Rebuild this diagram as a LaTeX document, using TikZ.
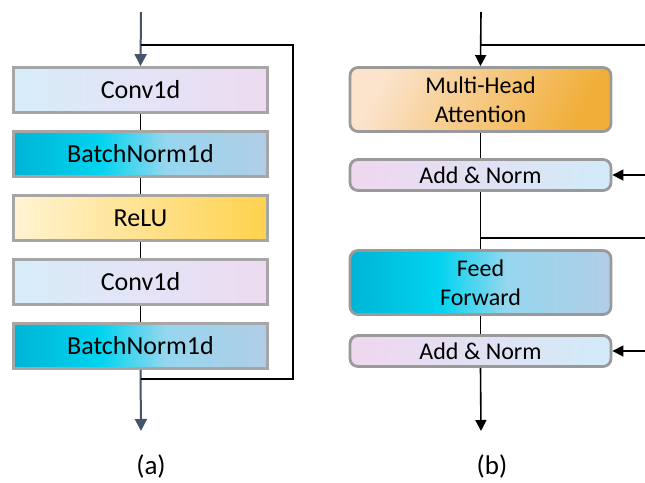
\documentclass[tikz,border=0pt]{standalone}
\usepackage{fontspec}
\setmainfont{Carlito}
\usetikzlibrary{arrows.meta}

% colour palette
\definecolor{slate}{HTML}{44546A}
\definecolor{rim}{HTML}{A6A6A6}
\definecolor{rimb}{HTML}{9A9A9A}
\definecolor{convL}{HTML}{D6ECF8}
\definecolor{convM}{HTML}{E4E4F6}
\definecolor{convR}{HTML}{EEDAF0}
\definecolor{reluL}{HTML}{FFF3D2}
\definecolor{reluR}{HTML}{FFD24E}
\definecolor{mhaL}{HTML}{FBE3CC}
\definecolor{mhaR}{HTML}{F1AE38}
\definecolor{anL}{HTML}{EED8F0}
\definecolor{anR}{HTML}{D3EAF8}

% cyan-to-pale-blue band used by the normalisation and feed-forward blocks
\pgfdeclarehorizontalshading{cyanband}{100bp}{%
  color(0bp)=(rgb,255:red,0;green,180;blue,212);
  color(25bp)=(rgb,255:red,0;green,180;blue,212);
  color(42bp)=(rgb,255:red,0;green,212;blue,240);
  color(55bp)=(rgb,255:red,150;green,214;blue,238);
  color(75bp)=(rgb,255:red,178;green,205;blue,230);
  color(100bp)=(rgb,255:red,178;green,205;blue,230)}

\begin{document}
\begin{tikzpicture}[x=1pt,y=-1pt,
  blockA/.style={draw=rim,line width=2.8pt,minimum width=254pt,minimum height=45pt,
    inner sep=0pt,font=\fontsize{26}{30}\selectfont},
  blockB/.style={draw=rimb,line width=2.8pt,rounded corners=8pt,minimum width=261pt,
    inner sep=0pt,align=center,font=\fontsize{24}{29}\selectfont},
  slatearrow/.style={draw=slate,line width=2pt,-{Triangle[length=12pt,width=12pt]}},
  link/.style={draw=black,line width=1.4pt},
  linkarrow/.style={draw=black,line width=1.6pt,-{Triangle[length=11pt,width=11pt]}},
  caption/.style={font=\fontsize{27}{32}\selectfont}]
\useasboundingbox (0,0) rectangle (645,482);

% ---------------- (a) residual convolution block ----------------
\node[blockA,left color=convL,right color=convR,middle color=convM] (c1) at (140.5,90) {Conv1d};
\node[blockA,shading=cyanband] (b1) at (140.5,154) {BatchNorm1d};
\node[blockA,left color=reluL,right color=reluR] (r1) at (140.5,218) {ReLU};
\node[blockA,left color=convL,right color=convR,middle color=convM] (c2) at (140.5,282) {Conv1d};
\node[blockA,shading=cyanband] (b2) at (140.5,346) {BatchNorm1d};

\coordinate (inA) at (141,12);
\coordinate (splitA) at (141,45);
\coordinate (skipA1) at (293,45);
\coordinate (skipA2) at (293,379);
\coordinate (joinA) at (141,379);
\coordinate (outA) at (141,431);

\draw[slatearrow] (inA) -- (c1.north);
\draw[link] (c1) -- (b1);
\draw[link] (b1) -- (r1);
\draw[link] (r1) -- (c2);
\draw[link] (c2) -- (b2);
\draw[slatearrow] (b2.south) -- (outA);
\draw[link] (splitA) -- (skipA1) -- (skipA2) -- (joinA);

\node[caption] (capA) at (151,466) {(a)};

% ---------------- (b) transformer encoder layer ----------------
\node[blockB,minimum height=64pt,left color=mhaL,right color=mhaR,shading angle=62] (mha) at (480.5,99.5) {Multi-Head\\Attention};
\node[blockB,minimum height=31pt,left color=anL,right color=anR,shading angle=75] (an1) at (480.5,175) {Add \& Norm};
\node[blockB,minimum height=64pt,shading=cyanband] (ff) at (480.5,282.5) {Feed\\Forward};
\node[blockB,minimum height=31pt,left color=anL,right color=anR,shading angle=75] (an2) at (480.5,351) {Add \& Norm};

\coordinate (inB) at (481,12);
\coordinate (splitB1) at (481,45);
\coordinate (edgeB1) at (645,45);
\coordinate (backB1) at (645,175);
\coordinate (splitB2) at (481,238);
\coordinate (edgeB2) at (645,238);
\coordinate (backB2) at (645,351);
\coordinate (outB) at (481,431);

\draw[linkarrow] (inB) -- (mha.north);
\draw[link] (splitB1) -- (edgeB1);
\draw[linkarrow] (backB1) -- (an1.east);
\draw[link] (mha.south) -- (an1.north);
\draw[link] (an1.south) -- (ff.north);
\draw[link] (splitB2) -- (edgeB2);
\draw[link] (ff.south) -- (an2.north);
\draw[linkarrow] (backB2) -- (an2.east);
\draw[linkarrow] (an2.south) -- (outB);

\node[caption] (capB) at (492,466) {(b)};
\end{tikzpicture}
\end{document}
